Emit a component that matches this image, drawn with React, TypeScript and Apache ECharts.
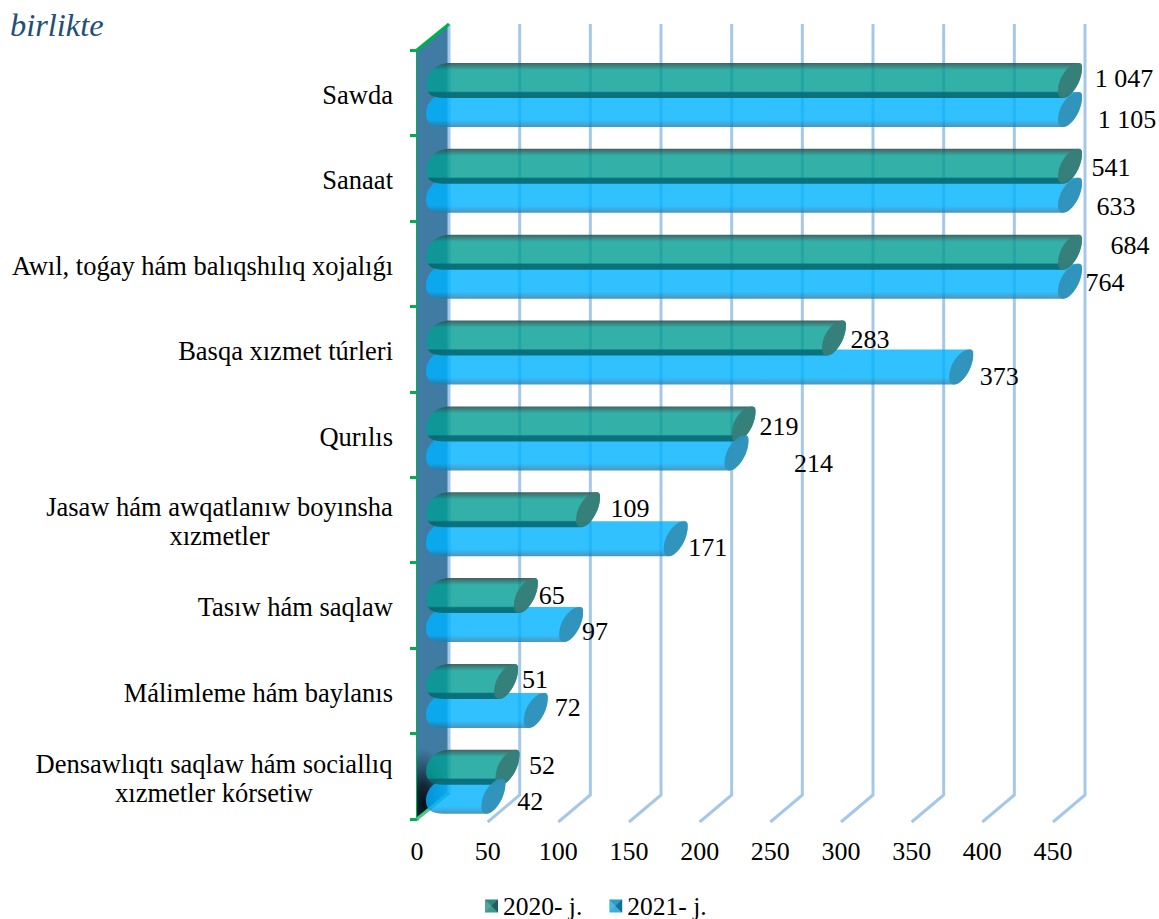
import React, { useEffect, useRef } from "react";
import * as echarts from "echarts";

const categories = [
  "Sawda",
  "Sanaat",
  "Awıl, toǵay hám balıqshılıq xojalıǵı",
  "Basqa xızmet túrleri",
  "Qurılıs",
  "Jasaw hám awqatlanıw boyınsha\nxızmetler",
  "Tasıw hám saqlaw",
  "Málimleme hám baylanıs",
  "Densawlıqtı saqlaw hám sociallıq\nxızmetler kórsetiw",
];
const values2020 = [1047, 541, 684, 283, 219, 109, 65, 51, 52];
const values2021 = [1105, 633, 764, 373, 214, 171, 97, 72, 42];
const ticks = [0, 50, 100, 150, 200, 250, 300, 350, 400, 450];

// Hand placement of the value labels, relative to the end of the bar and the band centre
const labelDx2020 = [71, 58, 77, 53, 52.5, 59, 43, 46, 51.5];
const labelDy2020 = [-14, -11, -18, -10, -8.5, -11, -10, -11, -11];
const labelDx2021 = [74, 63, 52, 55, 94, 49, 41, 49, 54];
const labelDy2021 = [27, 28, 19, 27, 28.5, 28, 26, 17, 25];

const AXIS_MAX = 450;
const FONT = '"Liberation Serif", "Times New Roman", serif';
const FONT_SIZE = 26;
const CAT_FONT_SIZE = 26.5;
const DEPTH_X = 32;
const DEPTH_Y = -26;
const BAR_H = 35;
const ROW_DRIFT = 0.4;

const fmt = (v: number) => (v >= 1000 ? `${Math.floor(v / 1000)} ${String(v % 1000).padStart(3, "0")}` : String(v));

function grad(top: string, main: string, bottomFrom: number, bottomTo: number, bottom: string) {
  return {
    type: "linear", x: 0, y: 0, x2: 0, y2: 1,
    colorStops: [
      { offset: 0, color: top },
      { offset: 0.2, color: main },
      { offset: bottomFrom, color: main },
      { offset: bottomTo, color: bottom },
      { offset: 1, color: bottom },
    ],
  };
}

function barRenderer(
  values: number[], dxs: number[], dys: number[], topOffset: number,
  bodyFill: any, capFill: string, zBody: number, zCap: number,
) {
  return (params: any, api: any) => {
    const i = api.value(1);
    const v = values[i];
    const [cx, cy] = api.coord([Math.min(v, AXIS_MAX), i]);
    const [x0] = api.coord([0, i]);
    const t = cy + i * ROW_DRIFT + topOffset;
    const b = t + BAR_H;
    const capL = cx + 5;
    const capR = cx + 29;
    const xL = x0 + 9;
    const body =
      `M${xL + 24} ${t}L${capR - 4} ${t}Q${capR} ${t} ${capR} ${t + 5}` +
      `C${capR} ${t + 19} ${capR - 11} ${b} ${capL + 5} ${b}` +
      `L${xL + 18} ${b}C${xL + 6} ${b} ${xL} ${b - 4} ${xL} ${b - 13}` +
      `C${xL} ${t + 9} ${xL + 11} ${t} ${xL + 24} ${t}Z`;
    const cap =
      `M${capL} ${b - 7}C${capL} ${t + 13} ${capL + 12} ${t} ${capR - 4} ${t}` +
      `C${capR} ${t} ${capR} ${t + 2} ${capR} ${t + 5}` +
      `C${capR} ${t + 19} ${capR - 11} ${b} ${capL + 5} ${b}` +
      `C${capL + 1} ${b} ${capL} ${b - 4} ${capL} ${b - 7}Z`;
    return {
      type: "group",
      children: [
        { type: "path", z2: zBody, shape: { pathData: body }, style: { fill: bodyFill } },
        { type: "path", z2: zCap, shape: { pathData: cap }, style: { fill: capFill } },
        {
          type: "text", z2: 60, x: cx + dxs[i], y: cy + dys[i],
          style: {
            text: fmt(v), fill: "#000", align: "center", verticalAlign: "middle",
            fontFamily: FONT, fontSize: FONT_SIZE,
          },
        },
      ],
    };
  };
}

function frameRenderer(params: any, api: any) {
  const tick = api.value(0);
  const cs = params.coordSys;
  const [x] = api.coord([tick, 0]);
  const top = cs.y;
  const bottom = cs.y + cs.height;
  const lineStyle = { stroke: "#a6c8e8", lineWidth: 3, fill: "none" };
  if (tick !== 0) {
    return {
      type: "polyline", z2: 2,
      shape: {
        points: [
          [x, bottom + 3],
          [x + DEPTH_X, bottom + DEPTH_Y + 2],
          [x + DEPTH_X, top + DEPTH_Y],
        ],
      },
      style: lineStyle,
    };
  }
  const shadeH = 74;
  return {
    type: "group",
    children: [
      {
        type: "line", z2: 2,
        shape: { x1: x + DEPTH_X, y1: bottom + DEPTH_Y + 2, x2: x + DEPTH_X, y2: top + DEPTH_Y },
        style: lineStyle,
      },
      {
        type: "polygon", z2: 1,
        shape: {
          points: [
            [x, top], [x + DEPTH_X, top + DEPTH_Y],
            [x + DEPTH_X, bottom + DEPTH_Y], [x, bottom],
          ],
        },
        style: { fill: "#3f7ba2" },
      },
      {
        type: "polygon", z2: 1,
        shape: {
          points: [
            [x, bottom - shadeH], [x + DEPTH_X, bottom - shadeH],
            [x + DEPTH_X, bottom + DEPTH_Y], [x, bottom],
          ],
        },
        style: {
          fill: {
            type: "radial", x: 0.2, y: 0.8, r: 0.75,
            colorStops: [
              { offset: 0, color: "rgba(8,16,24,1)" },
              { offset: 0.35, color: "rgba(12,24,36,0.85)" },
              { offset: 1, color: "rgba(20,40,60,0)" },
            ],
          },
        },
      },
      {
        type: "line", z2: 70,
        shape: { x1: x, y1: top, x2: x + DEPTH_X, y2: top + DEPTH_Y },
        style: { stroke: "#00b050", lineWidth: 3 },
      },
      {
        type: "line", z2: 3,
        shape: { x1: x, y1: bottom, x2: x + DEPTH_X, y2: bottom + DEPTH_Y },
        style: { stroke: "#4cc98a", lineWidth: 3 },
      },
    ],
  };
}

// Facets laid over a legend swatch so that it reads as a small bevelled square
function swatchFacets(x: number, y: number, s: number) {
  const c = [x + s / 2, y + s / 2];
  const facet = (pts: number[][], fill: string) => ({
    type: "polygon", shape: { points: pts }, style: { fill }, silent: true, z: 20,
  });
  return [
    facet([[x, y], [x + s, y], c], "rgba(0,0,0,0.05)"),
    facet([[x, y], [x, y + s], c], "rgba(255,255,255,0.18)"),
    facet([[x + s, y], [x + s, y + s], c], "rgba(0,0,0,0.35)"),
    facet([[x, y + s], [x + s, y + s], c], "rgba(255,255,255,0.08)"),
  ];
}

// Wrapped category labels are centred inside a block as wide as their first line
const richLine = { fontFamily: FONT, fontSize: CAT_FONT_SIZE, color: "#000", lineHeight: 29, padding: [4, 0, 0, 0] };
const catRich = {
  s: { ...richLine },
  a: { ...richLine, width: 347, align: "center" },
  b: { ...richLine, width: 358, align: "center" },
};
function catFormatter(value: string) {
  const lines = value.split("\n");
  if (lines.length === 1) return `{s|${value}}`;
  const key = lines[0].startsWith("Jasaw") ? "a" : "b";
  return lines.map((l) => `{${key}|${l}}`).join("\n");
}

export default function App() {
  const ref = useRef<HTMLDivElement>(null);
  useEffect(() => {
    document.body.style.margin = "0";
    const chart = echarts.init(ref.current!, null, { renderer: "svg" });
    const greenBody = grad("rgba(45,80,80,0.9)", "rgba(3,158,148,0.81)", 0.8, 0.85, "rgba(5,105,110,0.9)");
    const blueBody = grad("rgba(0,178,255,0.81)", "rgba(0,178,255,0.81)", 0.8, 0.99, "rgba(30,125,175,0.8)");
    const catIdx = categories.map((_, i) => [0, i]);
    chart.setOption({
      animation: false,
      textStyle: { fontFamily: FONT },
      grid: { left: 417, top: 50, width: 636, height: 769, containLabel: false },
      xAxis: {
        type: "value", min: 0, max: AXIS_MAX, interval: 50,
        axisLine: { show: false }, axisTick: { show: false }, splitLine: { show: false },
        axisLabel: {
          color: "#000", fontFamily: FONT, fontSize: FONT_SIZE, margin: 19,
          customValues: ticks, formatter: (v: number) => String(v),
        },
      },
      yAxis: {
        type: "category", data: categories, inverse: true,
        axisLine: { show: true, lineStyle: { color: "#00b050", width: 3 } },
        axisTick: { show: true, length: 7, alignWithLabel: false, lineStyle: { color: "#00b050", width: 3 } },
        axisLabel: {
          color: "#000", fontFamily: FONT, fontSize: CAT_FONT_SIZE, margin: 24,
          align: "right", interval: 0, formatter: catFormatter, rich: catRich,
        },
      },
      legend: {
        left: 480, top: 888, icon: "rect", itemWidth: 13, itemHeight: 13, itemGap: 27,
        data: ["2020- j.", "2021- j."], selectedMode: false,
        textStyle: { color: "#000", fontFamily: FONT, fontSize: 25.5 },
      },
      graphic: [
        {
          type: "text", left: 10, top: 9,
          style: { text: "birlikte", fill: "#1f4e79", fontFamily: FONT, fontSize: 32.4, fontStyle: "italic" },
        },
        ...swatchFacets(485, 899.5, 13),
        ...swatchFacets(609, 899.5, 13),
      ],
      series: [
        {
          type: "custom", name: "frame", silent: true, z: 1, clip: false,
          coordinateSystem: "cartesian2d", encode: { x: 0, y: 1 },
          data: ticks.map((t) => [t, 0]), renderItem: frameRenderer,
        },
        {
          type: "custom", name: "2021- j.", silent: true, z: 3, clip: false,
          coordinateSystem: "cartesian2d", encode: { x: 0, y: 1 },
          itemStyle: { color: "#2aa8d8" }, data: catIdx,
          renderItem: barRenderer(values2021, labelDx2021, labelDy2021, -0.7, blueBody, "rgba(50,145,185,0.95)", 10, 40),
        },
        {
          type: "custom", name: "2020- j.", silent: true, z: 3, clip: false,
          coordinateSystem: "cartesian2d", encode: { x: 0, y: 1 },
          itemStyle: { color: "#2f8f88" }, data: catIdx,
          renderItem: barRenderer(values2020, labelDx2020, labelDy2020, -29.7, greenBody, "rgba(55,125,120,0.95)", 20, 30),
        },
      ],
    });
    return () => chart.dispose();
  }, []);
  return <div ref={ref} style={{ position: "absolute", left: 0, top: 0, width: 1159, height: 919 }} />;
}
